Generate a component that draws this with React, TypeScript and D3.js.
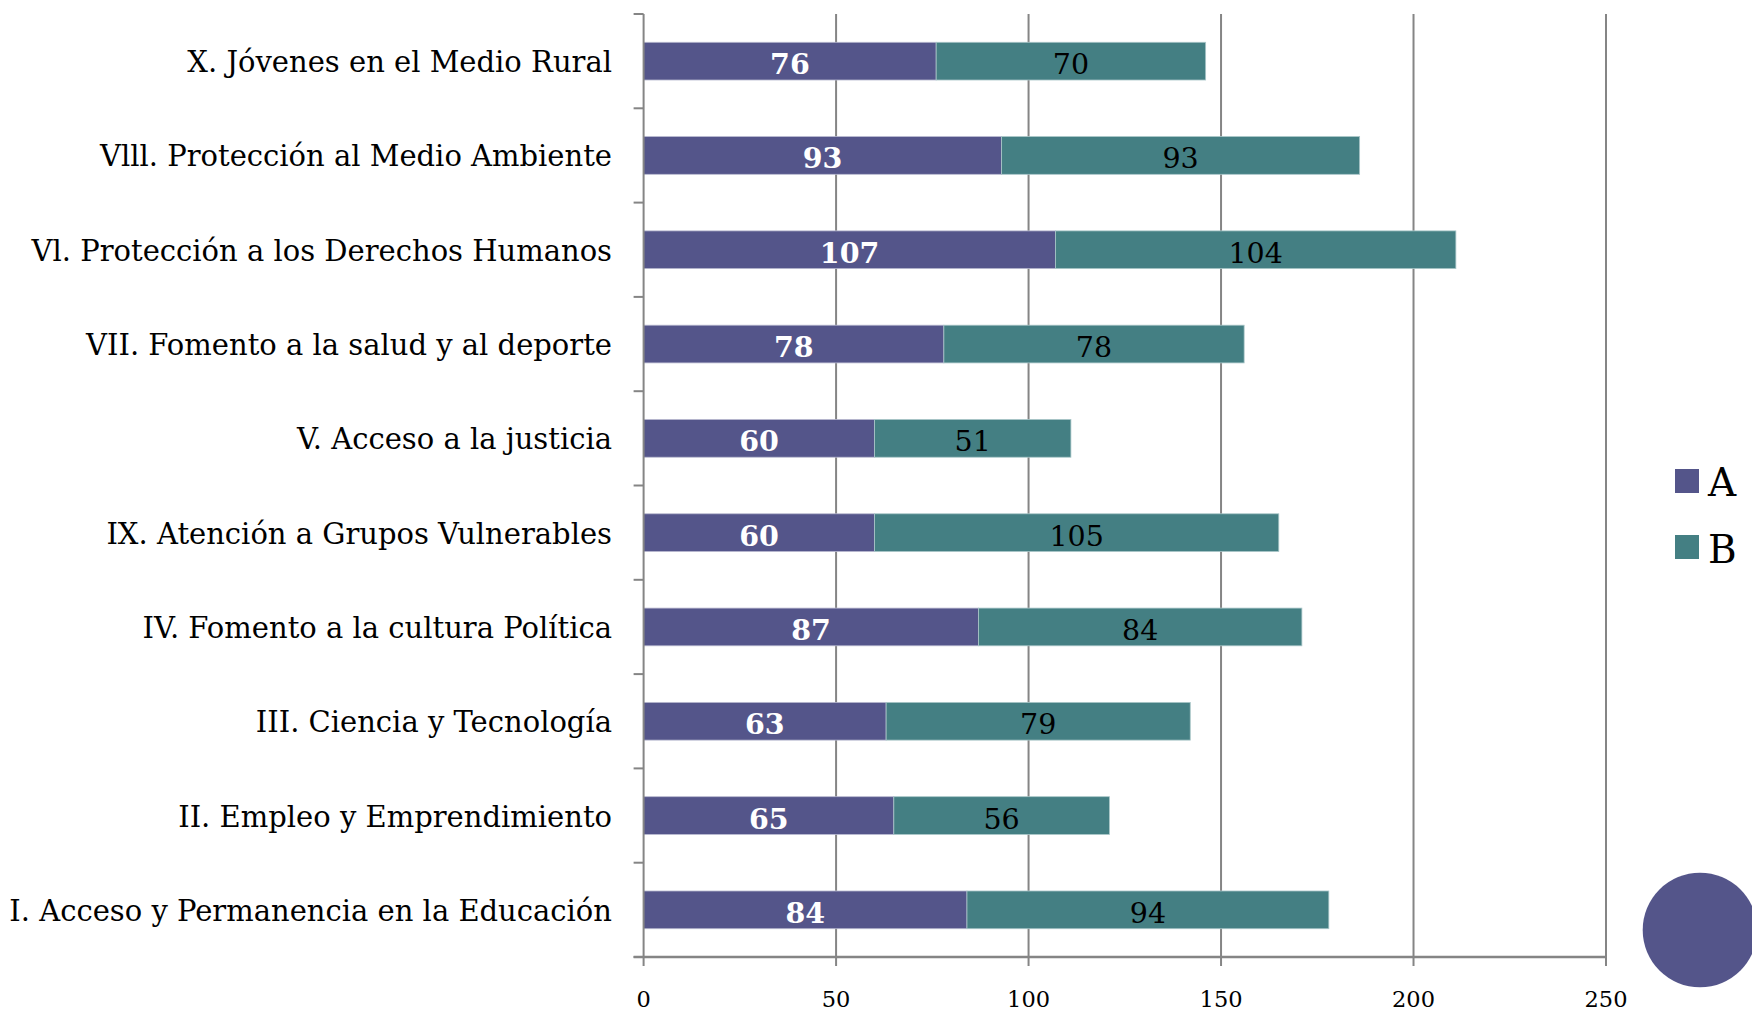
import React from "react";
import * as d3 from "d3";

const categories = [
  "X. Jóvenes en el Medio Rural",
  "Vlll. Protección al Medio Ambiente",
  "Vl. Protección a los Derechos Humanos",
  "VII. Fomento a la salud y al deporte",
  "V. Acceso a la justicia",
  "IX. Atención a Grupos Vulnerables",
  "IV. Fomento a la cultura Política",
  "III. Ciencia y Tecnología",
  "II. Empleo y Emprendimiento",
  "I. Acceso y Permanencia en la Educación",
];
const seriesA = [76, 93, 107, 78, 60, 60, 87, 63, 65, 84];
const seriesB = [70, 93, 104, 78, 51, 105, 84, 79, 56, 94];
const xTicks = [0, 50, 100, 150, 200, 250];
const seriesNames = ["A", "B"];

const COLOR_A = "#54558a";
const COLOR_B = "#447f83";
const GRID = "#858585";
const FONT = "'DejaVu Serif', serif";

export default function App() {
  const W = 1752;
  const H = 1013;
  const left = 643.6;
  const right = 1606;
  const top = 14;
  const bottom = 957;

  const x = d3.scaleLinear().domain([0, 250]).range([left, right]);
  const y = d3.scaleBand<string>().domain(categories).range([top, bottom]).padding(0);
  const bw = y.bandwidth();
  const barH = bw * 0.4;

  const boundaries = d3.range(categories.length + 1).map((i) => top + i * bw);

  return (
    <div style={{ position: "absolute", left: 0, top: 0 }}>
      <svg width={W} height={H} style={{ display: "block", background: "#fff" }}>
        {xTicks.slice(1).map((t) => (
          <line key={"g" + t} x1={x(t)} x2={x(t)} y1={top} y2={bottom} stroke={GRID} strokeWidth={2} />
        ))}
        {categories.map((c, i) => {
          const cy = (y(c) as number) + bw / 2;
          const a = seriesA[i];
          const b = seriesB[i];
          return (
            <g key={c}>
              <rect x={x(0)} y={cy - barH / 2} width={x(a) - x(0)} height={barH} fill={COLOR_A} stroke="#b9bad0" strokeWidth={0.8} />
              <rect x={x(a)} y={cy - barH / 2} width={x(a + b) - x(a)} height={barH} fill={COLOR_B} stroke="#a9c6c8" strokeWidth={0.8} />
              <text x={(x(0) + x(a)) / 2} y={cy + 13} textAnchor="middle" fontFamily={FONT} fontSize={28.5} fontWeight="bold" fill="#fff">
                {a}
              </text>
              <text x={(x(a) + x(a + b)) / 2} y={cy + 13} textAnchor="middle" fontFamily={FONT} fontSize={28.5} fill="#000">
                {b}
              </text>
              <text x={612} y={cy + 11} textAnchor="end" fontFamily={FONT} fontSize={29} fill="#000">
                {c}
              </text>
            </g>
          );
        })}
        <line x1={left} x2={left} y1={top} y2={bottom} stroke={GRID} strokeWidth={2} />
        {boundaries.map((b, i) => (
          <line key={"yt" + i} x1={left - 10} x2={left} y1={b} y2={b} stroke={GRID} strokeWidth={2} />
        ))}
        <line x1={left - 10} x2={right} y1={bottom} y2={bottom} stroke={GRID} strokeWidth={2.5} />
        {xTicks.map((t) => (
          <g key={"xt" + t}>
            <line x1={x(t)} x2={x(t)} y1={bottom} y2={bottom + 9} stroke={GRID} strokeWidth={2} />
            <text x={x(t)} y={1007} textAnchor="middle" fontFamily={FONT} fontSize={22.5} fill="#000">
              {t}
            </text>
          </g>
        ))}
        {seriesNames.map((s, i) => (
          <g key={s}>
            <rect x={1675} y={469 + i * 66} width={24} height={24} fill={i === 0 ? COLOR_A : COLOR_B} />
            <text x={1708} y={496 + i * 66.5} fontFamily={FONT} fontSize={39} fill="#000">
              {s}
            </text>
          </g>
        ))}
        <circle cx={1700} cy={930} r={57.3} fill={COLOR_A} />
      </svg>
    </div>
  );
}
